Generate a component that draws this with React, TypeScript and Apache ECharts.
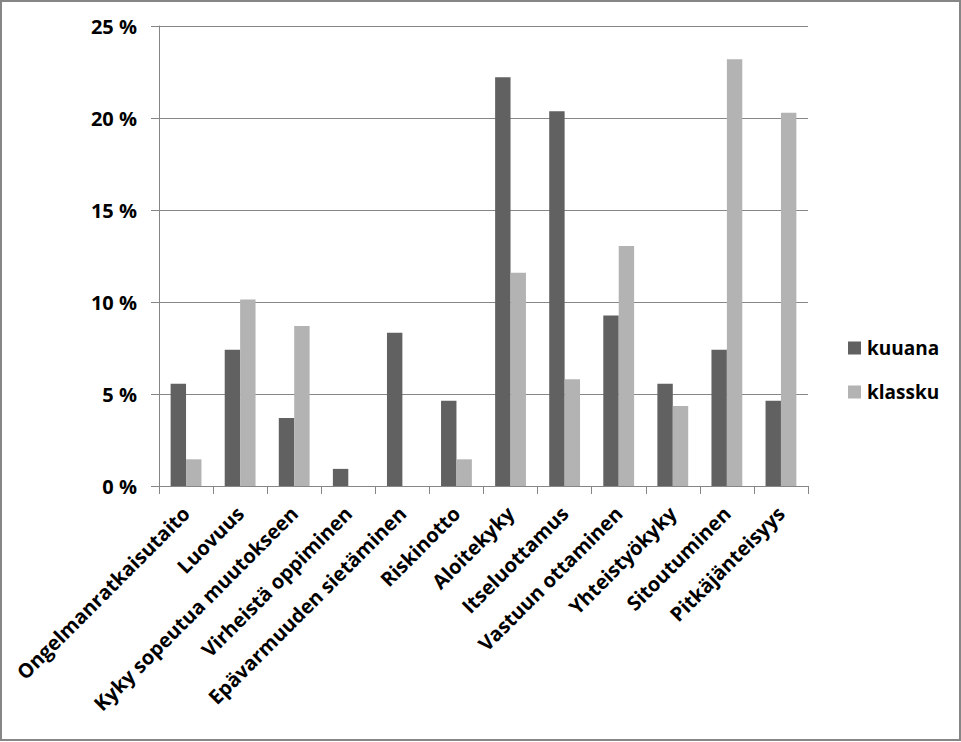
import React, { useEffect, useRef } from "react";
import * as echarts from "echarts";

const categories = [
  "Ongelmanratkaisutaito",
  "Luovuus",
  "Kyky sopeutua muutokseen",
  "Virheistä oppiminen",
  "Epävarmuuden sietäminen",
  "Riskinotto",
  "Aloitekyky",
  "Itseluottamus",
  "Vastuun ottaminen",
  "Yhteistyökyky",
  "Sitoutuminen",
  "Pitkäjänteisyys",
];
const kuuana = [5.56, 7.41, 3.7, 0.93, 8.33, 4.63, 22.22, 20.37, 9.26, 5.56, 7.41, 4.63];
const klassku = [1.45, 10.14, 8.7, 0, 0, 1.45, 11.59, 5.8, 13.04, 4.35, 23.19, 20.29];
const yTicks = { min: 0, max: 25, interval: 5 };

const FONT = "Open Sans";

export default function App() {
  const ref = useRef<HTMLDivElement>(null);
  useEffect(() => {
    if (!ref.current) return;
    const chart = echarts.init(ref.current, null, { renderer: "svg" });
    chart.setOption({
      animation: false,
      backgroundColor: "#ffffff",
      textStyle: { fontFamily: FONT },
      grid: { left: 159, right: 153, top: 26, bottom: 256, containLabel: false },
      legend: {
        orient: "vertical",
        left: 843,
        top: 331,
        itemWidth: 13,
        itemHeight: 13,
        itemGap: 20,
        icon: "rect",
        textStyle: {
          fontFamily: FONT,
          fontWeight: "bold",
          fontSize: 19,
          lineHeight: 24,
          color: "#000",
          padding: [0, 0, 0, 1],
        },
        data: ["kuuana", "klassku"],
      },
      xAxis: {
        type: "category",
        data: categories,
        axisLine: { lineStyle: { color: "#868686", width: 1 } },
        axisTick: { show: true, length: 8, lineStyle: { color: "#868686" } },
        axisLabel: {
          rotate: 45,
          interval: 0,
          margin: 24,
          fontFamily: FONT,
          fontWeight: "bold",
          fontSize: 20,
          color: "#000",
        },
      },
      yAxis: {
        type: "value",
        min: yTicks.min,
        max: yTicks.max,
        interval: yTicks.interval,
        axisLine: { show: true, lineStyle: { color: "#868686", width: 1 } },
        axisTick: { show: true, length: 8, lineStyle: { color: "#868686" } },
        splitLine: { show: true, lineStyle: { color: "#868686", width: 1 } },
        axisLabel: {
          formatter: "{value} %",
          margin: 22,
          fontFamily: FONT,
          fontWeight: "bold",
          fontSize: 20,
          color: "#000",
        },
      },
      series: [
        {
          name: "kuuana",
          type: "bar",
          data: kuuana,
          barGap: "0%",
          barCategoryGap: "43%",
          itemStyle: { color: "#616161" },
        },
        {
          name: "klassku",
          type: "bar",
          data: klassku,
          barGap: "0%",
          barCategoryGap: "43%",
          itemStyle: { color: "#b3b3b3" },
        },
      ],
      graphic: [
        {
          type: "rect",
          shape: { x: 1, y: 1, width: 959, height: 739 },
          style: { fill: "none", stroke: "#868686", lineWidth: 2 },
          silent: true,
        },
      ],
    });
    return () => chart.dispose();
  }, []);
  return (
    <div
      ref={ref}
      style={{ position: "fixed", left: 0, top: 0, width: 961, height: 742 }}
    />
  );
}
